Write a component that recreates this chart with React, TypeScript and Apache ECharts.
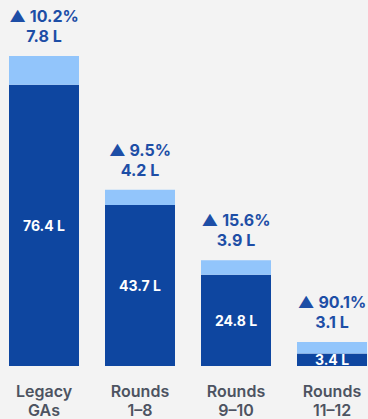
import React, { useEffect, useRef } from "react";
import * as echarts from "echarts";

const categories = ["Legacy\nGAs", "Rounds\n1–8", "Rounds\n9–10", "Rounds\n11–12"];
const baseValues = [76.4, 43.7, 24.8, 3.4];
const increments = [7.8, 4.2, 3.9, 3.1];
const growthPct = [10.2, 9.5, 15.6, 90.1];

const DARK = "#0e46a0";
const LIGHT = "#92c5fb";
const LABEL = "#1d4ea6";

export default function App() {
  const ref = useRef<HTMLDivElement>(null);
  useEffect(() => {
    if (!ref.current) return;
    const chart = echarts.init(ref.current, null, { renderer: "svg" });
    chart.setOption({
      animation: false,
      backgroundColor: "#f3f3f3",
      textStyle: { fontFamily: "Inter" },
      grid: { left: 0, right: 0, top: 56, bottom: 53, containLabel: false },
      xAxis: {
        type: "category",
        data: categories,
        axisLine: { show: false },
        axisTick: { show: false },
        axisLabel: {
          color: "#4d5361",
          fontSize: 16,
          fontWeight: 600,
          lineHeight: 19,
          margin: 15,
          fontFamily: "Inter",
        },
      },
      yAxis: {
        type: "value",
        min: 0,
        max: "dataMax",
        show: false,
        splitLine: { show: false },
      },
      series: [
        {
          type: "bar",
          stack: "total",
          data: baseValues,
          barWidth: 70,
          itemStyle: { color: DARK },
          label: {
            show: true,
            position: "inside",
            color: "#ffffff",
            fontWeight: "bold",
            fontSize: 14,
            fontFamily: "Inter",
            formatter: (p: any) => `${p.value} L`,
          },
        },
        {
          type: "bar",
          stack: "total",
          data: increments,
          barWidth: 70,
          itemStyle: { color: LIGHT },
          label: {
            show: true,
            position: "top",
            distance: 10,
            color: LABEL,
            fontWeight: "bold",
            fontSize: 16,
            lineHeight: 20,
            fontFamily: "Inter",
            formatter: (p: any) => `▲ ${growthPct[p.dataIndex]}%\n${p.value} L`,
          },
        },
      ],
    });
    return () => chart.dispose();
  }, []);
  return (
    <div
      style={{
        position: "fixed",
        left: 0,
        top: 0,
        width: 368,
        height: 419,
        overflow: "hidden",
        background: "#f3f3f3",
      }}
    >
      <div
        ref={ref}
        style={{ position: "absolute", left: -4, top: 0, width: 384, height: 419 }}
      />
    </div>
  );
}
